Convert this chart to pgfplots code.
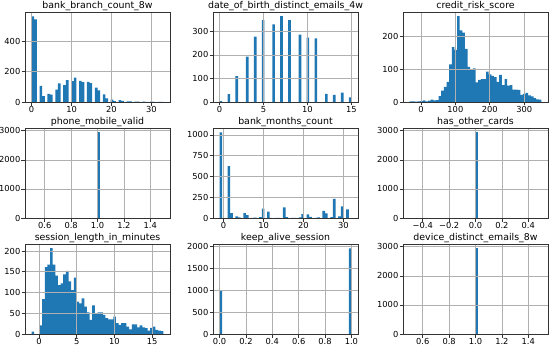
\documentclass[border=0pt]{standalone}
\usepackage{fontspec}
\setmainfont{DejaVu Sans}
\usepackage{pgfplots}
\pgfplotsset{compat=1.18}
\definecolor{histblue}{HTML}{1F77B4}
\definecolor{gridgrey}{HTML}{B0B0B0}
\newcommand\titlesize{\fontsize{9.4}{11}\selectfont}
\newcommand\ticksize{\fontsize{8.3}{10}\selectfont}
\pgfplotsset{
  hist/.style={
    width=145pt, height=90pt, scale only axis, anchor=south west,
    axis on top, grid=major, grid style={gridgrey, line width=0.7pt},
    tick align=outside, tick pos=left, major tick length=3.5pt,
    tick style={black!80, line width=0.7pt},
    axis line style={black!80, line width=0.8pt},
    ymin=0, scaled ticks=false,
    tick label style={font=\ticksize, inner sep=1pt},
    /pgf/number format/assume math mode=true,
    /pgf/number format/1000 sep={},
    every axis title shift=0pt,
    title style={at={(0.5,1)}, anchor=base, yshift=3.5pt, font=\titlesize},
  },
  hbar/.style={ybar, bar shift=0pt, fill=histblue, draw=none, mark=none},
}
\begin{document}
\begin{tikzpicture}
\useasboundingbox (0,0) rectangle (549pt,346pt);

% row 1
\begin{axis}[hist, at={(25pt,244pt)}, title={bank\_branch\_count\_8w},
  xmin=-1.65, xmax=34.65, ymax=593, bar width=0.66,
  xtick={0,10,20,30}, ytick={0,200,400}]
\addplot[hbar] coordinates {(0.33,565) (0.99,545) (2.31,107) (2.97,38) (4.29,53) (4.95,49)
  (6.27,82) (6.93,122) (8.25,111) (8.91,144) (10.23,138) (10.89,160) (12.21,140)
  (12.87,131) (14.19,133) (14.85,124) (16.17,95) (16.83,76) (18.15,51) (18.81,24)
  (20.13,15) (20.79,6) (22.11,12) (22.77,8) (24.09,4) (24.75,4) (26.07,3) (26.73,2)
  (28.05,2) (28.71,1) (30.03,2) (30.69,1) (32.01,1) (32.67,1)};
\end{axis}

\begin{axis}[hist, at={(213pt,244pt)}, title={date\_of\_birth\_distinct\_emails\_4w},
  xmin=-0.75, xmax=15.75, ymax=382, bar width=0.3,
  xtick={0,5,10,15}, ytick={0,100,200,300}]
\addplot[hbar] coordinates {(0.15,4) (1.05,33) (1.95,110) (3.15,193) (4.05,277) (4.95,347)
  (6.15,329) (7.05,364) (7.95,347) (9.15,286) (10.05,273) (10.95,270) (12.15,34)
  (13.05,30) (13.95,40) (14.85,20)};
\end{axis}

\begin{axis}[hist, at={(403pt,244pt)}, title={credit\_risk\_score},
  xmin=-52.15, xmax=369.15, ymax=276, bar width=7.66,
  xtick={0,100,200,300}, ytick={0,100,200}]
\addplot[hbar] coordinates {(-29.17,2) (-21.51,2) (-13.85,1) (-6.19,2) (1.47,3) (9.13,5)
  (16.79,2) (24.45,4) (32.11,7) (39.77,5) (47.43,6) (55.09,18) (62.75,35) (70.41,46)
  (78.07,62) (85.73,115) (93.39,168) (101.05,160) (108.71,263) (116.37,220)
  (124.03,213) (131.69,163) (139.35,108) (147.01,98) (154.67,103) (162.33,60)
  (169.99,68) (177.65,70) (185.31,70) (192.97,93) (200.63,85) (208.29,80)
  (215.95,76) (223.61,62) (231.27,83) (238.93,52) (246.59,70) (254.25,50)
  (261.91,52) (269.57,38) (277.23,38) (284.89,37) (292.55,22) (300.21,25)
  (307.87,28) (315.53,20) (323.19,17) (330.85,12) (338.51,8) (346.17,7)};
\end{axis}

% row 2
\begin{axis}[hist, at={(25pt,128pt)}, title={phone\_mobile\_valid},
  xmin=0.45, xmax=1.55, ymax=3098, bar width=0.02,
  xtick={0.6,0.8,1.0,1.2,1.4}, xticklabels={0.6,0.8,1.0,1.2,1.4},
  ytick={0,1000,2000,3000}]
\addplot[hbar] coordinates {(1.01,2950)};
\end{axis}

\begin{axis}[hist, at={(213pt,128pt)}, title={bank\_months\_count},
  xmin=-2.65, xmax=33.65, ymax=1084, bar width=0.66,
  xtick={0,10,20,30}, ytick={0,250,500,750,1000}]
\addplot[hbar] coordinates {(-0.67,1030) (1.31,625) (1.97,60) (3.29,20) (3.95,8) (5.27,60)
  (5.93,36) (7.25,3) (7.91,4) (9.23,12) (9.89,113) (11.21,77) (11.87,3) (13.19,2)
  (13.85,2) (15.17,129) (15.83,10) (17.15,2) (17.81,2) (19.13,8) (19.79,48)
  (21.11,45) (21.77,15) (23.09,2) (23.75,8) (25.07,85) (25.73,56) (27.05,12)
  (27.71,230) (29.03,20) (29.69,141) (31.01,105)};
\end{axis}

\begin{axis}[hist, at={(403pt,128pt)}, title={has\_other\_cards},
  xmin=-0.55, xmax=0.55, ymax=3098, bar width=0.02,
  xtick={-0.4,-0.2,0,0.2,0.4}, xticklabels={−0.4,−0.2,0.0,0.2,0.4},
  ytick={0,1000,2000,3000}]
\addplot[hbar] coordinates {(0.01,2950)};
\end{axis}

% row 3
\begin{axis}[hist, at={(25pt,12pt)}, title={session\_length\_in\_minutes},
  xmin=-1.875, xmax=17.375, ymax=217, bar width=0.35,
  xtick={0,5,10,15}, ytick={0,50,100,150,200}]
\addplot[hbar] coordinates {(-0.825,6) (-0.475,0) (-0.125,0) (0.225,21) (0.575,84)
  (0.925,161) (1.275,167) (1.625,207) (1.975,167) (2.325,141) (2.675,118)
  (3.025,122) (3.375,144) (3.725,152) (4.075,127) (4.425,106) (4.775,136)
  (5.125,78) (5.475,74) (5.825,86) (6.175,66) (6.525,52) (6.875,34) (7.225,69)
  (7.575,48) (7.925,52) (8.275,52) (8.625,46) (8.975,38) (9.325,35) (9.675,35)
  (10.025,42) (10.375,26) (10.725,22) (11.075,26) (11.425,26) (11.775,18)
  (12.125,11) (12.475,23) (12.825,23) (13.175,16) (13.525,21) (13.875,16)
  (14.225,14) (14.575,8) (14.925,15) (15.275,18) (15.625,10) (15.975,8) (16.325,7)};
\end{axis}

\begin{axis}[hist, at={(213pt,12pt)}, title={keep\_alive\_session},
  xmin=-0.05, xmax=1.05, ymax=2048, bar width=0.02,
  xtick={0,0.2,0.4,0.6,0.8,1}, xticklabels={0.0,0.2,0.4,0.6,0.8,1.0},
  ytick={0,500,1000,1500,2000}]
\addplot[hbar] coordinates {(0.01,985) (0.99,1950)};
\end{axis}

\begin{axis}[hist, at={(403pt,12pt)}, title={device\_distinct\_emails\_8w},
  xmin=0.45, xmax=1.55, ymax=3098, bar width=0.02,
  xtick={0.6,0.8,1.0,1.2,1.4}, xticklabels={0.6,0.8,1.0,1.2,1.4},
  ytick={0,1000,2000,3000}]
\addplot[hbar] coordinates {(1.01,2950)};
\end{axis}
\end{tikzpicture}
\end{document}
